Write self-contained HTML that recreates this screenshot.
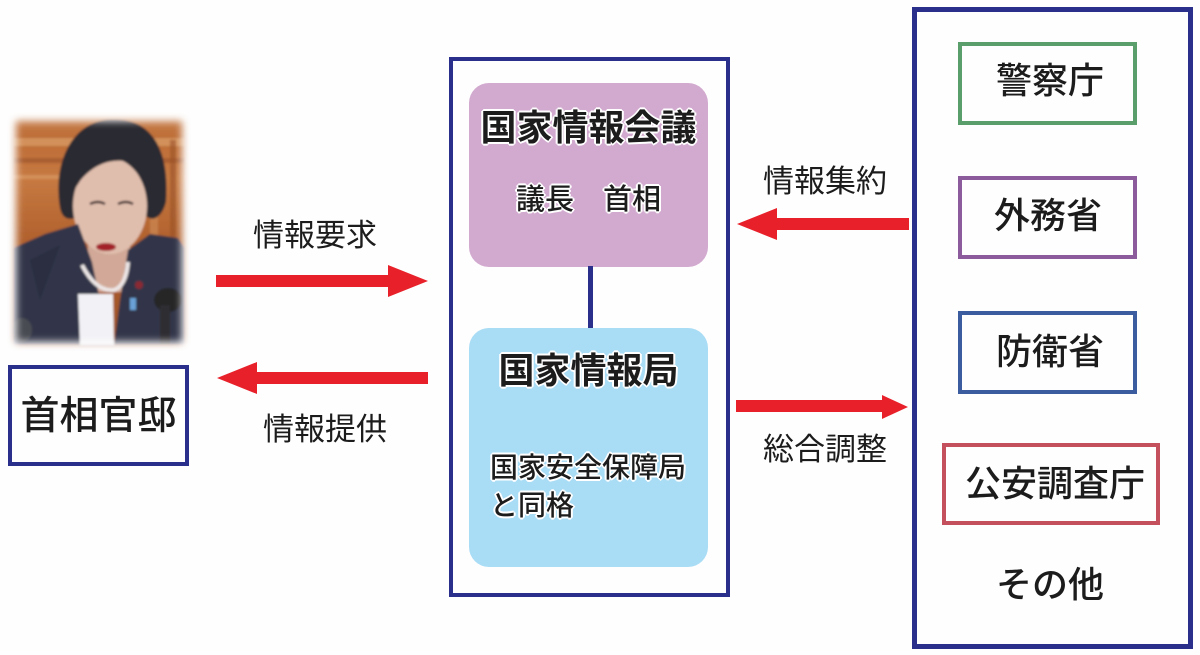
<!DOCTYPE html>
<html lang="ja">
<head>
<meta charset="utf-8">
<style>
  html, body { margin:0; padding:0; background:#ffffff; }
  #root { position:relative; width:1200px; height:655px; overflow:hidden; background:#fefefe;
    font-family:"Liberation Sans","Noto Sans CJK JP",sans-serif; color:#1c1c1c; }
  .box { position:absolute; box-sizing:border-box; }
  .t { position:absolute; line-height:1; white-space:nowrap; }
  .c { text-align:center; }
  .halo { text-shadow: 0 0 2px #fff, 1px 1px 0 #fff, -1px -1px 0 #fff, 1px -1px 0 #fff, -1px 1px 0 #fff, 2px 0 0 #fff, -2px 0 0 #fff, 0 2px 0 #fff, 0 -2px 0 #fff; }
  svg { position:absolute; left:0; top:0; }
</style>
</head>
<body>
<div id="root">

  <svg width="1200" height="655" viewBox="0 0 1200 655">
    <defs>
      <filter id="fb" x="-20%" y="-20%" width="140%" height="140%">
        <feGaussianBlur stdDeviation="4"/>
      </filter>
      <filter id="soft" x="-20%" y="-20%" width="140%" height="140%">
        <feGaussianBlur stdDeviation="1"/>
      </filter>
      <mask id="pm" maskUnits="userSpaceOnUse" x="0" y="100" width="200" height="260">
        <rect x="0" y="100" width="200" height="260" fill="#000"/>
        <rect x="16" y="121" width="166" height="221" fill="#fff" filter="url(#fb)"/>
      </mask>
      <linearGradient id="wood" x1="0" y1="0" x2="0" y2="1">
        <stop offset="0" stop-color="#cf8c5a"/>
        <stop offset="0.15" stop-color="#bd6c36"/>
        <stop offset="0.3" stop-color="#c77a42"/>
        <stop offset="0.55" stop-color="#b0602c"/>
        <stop offset="1" stop-color="#9a5026"/>
      </linearGradient>
    </defs>

    <!-- Photo -->
    <g mask="url(#pm)">
      <g filter="url(#soft)">
        <rect x="0" y="100" width="200" height="260" fill="url(#wood)"/>
        <rect x="13" y="138" width="172" height="8" fill="#dc9f6a" opacity="0.7"/>
        <rect x="13" y="158" width="172" height="5" fill="#9a5228" opacity="0.6"/>
        <rect x="13" y="175" width="60" height="4" fill="#dc9f6a" opacity="0.6"/>
        <rect x="150" y="150" width="8" height="90" fill="#d08e58" opacity="0.6"/>
        <rect x="170" y="140" width="6" height="100" fill="#9a5228" opacity="0.6"/>
        <!-- hair back -->
        <path d="M60,208 C52,160 74,120 112,119 C152,118 170,150 166,202 C162,218 152,222 146,216 L80,216 C68,222 62,218 60,208 Z" fill="#2c2c31"/>
        <!-- neck -->
        <rect x="88" y="232" width="42" height="60" fill="#d2a998"/>
        <!-- face -->
        <ellipse cx="110" cy="206" rx="37" ry="48" fill="#e0bead"/>
        <!-- fringe -->
        <path d="M66,192 C68,150 95,126 125,128 C152,130 164,155 162,188 C152,172 140,163 125,161 C108,159 92,166 80,181 C75,189 70,197 66,192 Z" fill="#2c2c31"/>
        <!-- eyes -->
        <path d="M90,204 q8,-4 15,0" stroke="#3a2a2a" stroke-width="2.5" fill="none"/>
        <path d="M118,204 q8,-4 15,0" stroke="#3a2a2a" stroke-width="2.5" fill="none"/>
        <!-- lips -->
        <ellipse cx="106" cy="247" rx="10" ry="4" fill="#a3202c"/>
        <!-- jacket -->
        <path d="M13,248 L45,234 L78,224 L92,262 L100,300 L108,345 L13,345 Z" fill="#30354a"/>
        <path d="M128,250 L150,234 L178,238 L185,248 L185,345 L114,345 L120,300 Z" fill="#30354a"/>
        <path d="M30,260 L60,245 L40,300 Z" fill="#262a3a" opacity="0.6"/>
        <!-- blouse -->
        <path d="M78,294 L113,294 L114,345 L80,345 Z" fill="#f2f2f6"/>
        <!-- necklace -->
        <path d="M82,265 Q96,292 114,290 Q126,286 128,262" stroke="#ece6e6" stroke-width="4" fill="none"/>
        <!-- pins -->
        <circle cx="139" cy="285" r="4" fill="#8a2a30"/>
        <rect x="130" y="298" width="6" height="12" fill="#6aa3d8"/>
        <!-- mic -->
        <ellipse cx="168" cy="300" rx="14" ry="12" fill="#262628"/>
        <rect x="160" y="305" width="10" height="40" fill="#2e2e30"/>
        <ellipse cx="22" cy="330" rx="10" ry="12" fill="#555" opacity="0.7"/>
      </g>
    </g>

    <!-- Arrows -->
    <polygon points="216,275 388,275 388,265 428,281 388,297 388,287 216,287" fill="#e8202a"/>
    <polygon points="428,372 257,372 257,362 217,378 257,394 257,384 428,384" fill="#e8202a"/>
    <polygon points="909,218 777,218 777,208 737,224 777,240 777,230 909,230" fill="#e8202a"/>
    <polygon points="736,400 882,400 882,395 908,407 882,419 882,412 736,412" fill="#e8202a"/>
  </svg>

  <!-- 首相官邸 -->
  <div class="box" style="left:8px;top:365px;width:181px;height:101px;border:4px solid #2b2f8c;"></div>
  <div class="t c" style="left:8px;width:181px;top:397px;font-size:39px;font-weight:500;">首相官邸</div>

  <!-- labels -->
  <div class="t c" style="left:235px;width:160px;top:220px;font-size:31px;">情報要求</div>
  <div class="t c" style="left:245px;width:160px;top:414px;font-size:31px;">情報提供</div>
  <div class="t c" style="left:745px;width:160px;top:166px;font-size:31px;">情報集約</div>
  <div class="t c" style="left:745px;width:160px;top:434px;font-size:31px;">総合調整</div>

  <!-- middle container -->
  <div class="box" style="left:449px;top:57px;width:281px;height:540px;border:4px solid #2b2f8c;"></div>
  <div class="box" style="left:469px;top:83px;width:239px;height:184px;border-radius:20px;background:#d2a9cf;"></div>
  <div class="box" style="left:588px;top:266px;width:5px;height:63px;background:#2b2f8c;"></div>
  <div class="box" style="left:469px;top:328px;width:239px;height:239px;border-radius:20px;background:#a9dcf5;"></div>

  <div class="t c halo" style="left:469px;width:239px;top:110px;font-size:36px;font-weight:700;">国家情報会議</div>
  <div class="t c halo" style="left:469px;width:239px;top:186px;font-size:29px;font-weight:500;">議長　首相</div>
  <div class="t c halo" style="left:469px;width:239px;top:353px;font-size:36px;font-weight:700;">国家情報局</div>
  <div class="t halo" style="left:490px;top:454px;font-size:28px;font-weight:500;">国家安全保障局</div>
  <div class="t halo" style="left:490px;top:492px;font-size:28px;font-weight:500;">と同格</div>

  <!-- right container -->
  <div class="box" style="left:912px;top:7px;width:281px;height:642px;border:5px solid #2b2f8c;"></div>
  <div class="box" style="left:958px;top:42px;width:179px;height:83px;border:4px solid #5a9e6c;"></div>
  <div class="box" style="left:958px;top:176px;width:179px;height:83px;border:4px solid #8c5b9c;"></div>
  <div class="box" style="left:958px;top:311px;width:179px;height:83px;border:4px solid #3b5da0;"></div>
  <div class="box" style="left:942px;top:443px;width:218px;height:82px;border:4px solid #c4505e;"></div>

  <div class="t c" style="left:958px;width:184px;top:63px;font-size:36px;font-weight:500;">警察庁</div>
  <div class="t c" style="left:958px;width:180px;top:198px;font-size:36px;font-weight:500;">外務省</div>
  <div class="t c" style="left:958px;width:184px;top:334px;font-size:36px;font-weight:500;">防衛省</div>
  <div class="t c" style="left:942px;width:226px;top:466px;font-size:36px;font-weight:500;">公安調査庁</div>
  <div class="t c" style="left:958px;width:184px;top:567px;font-size:36px;font-weight:500;">その他</div>

</div>
</body>
</html>
